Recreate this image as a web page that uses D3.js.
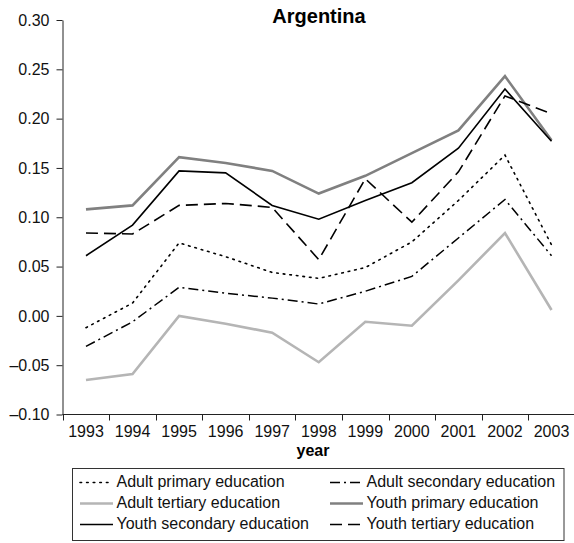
<!DOCTYPE html>
<html>
<head>
<meta charset="utf-8">
<script src="https://cdn.jsdelivr.net/npm/d3@7/dist/d3.min.js"></script>
<style>
  html, body { margin: 0; padding: 0; background: #fff; }
  svg { display: block; font-family: "Liberation Sans", Arial, Helvetica, sans-serif; }
</style>
</head>
<body>
<svg id="chart" width="574" height="543"></svg>
<script>
// Years on the horizontal axis
const years = ["1993","1994","1995","1996","1997","1998","1999","2000","2001","2002","2003"];

// Series values, one per year
const adultPrimary   = [-0.012, 0.013, 0.074, 0.060, 0.044, 0.038, 0.049, 0.075, 0.117, 0.163, 0.072];
const adultSecondary = [-0.031, -0.006, 0.029, 0.023, 0.018, 0.012, 0.025, 0.040, 0.079, 0.118, 0.061];
const adultTertiary  = [-0.065, -0.059, 0.000, -0.008, -0.017, -0.047, -0.006, -0.010, 0.036, 0.084, 0.006];
const youthPrimary   = [0.108, 0.112, 0.161, 0.155, 0.147, 0.124, 0.142, 0.165, 0.188, 0.243, 0.178];
const youthSecondary = [0.061, 0.092, 0.147, 0.145, 0.112, 0.098, 0.117, 0.135, 0.170, 0.230, 0.177];
const youthTertiary  = [0.084, 0.083, 0.112, 0.114, 0.110, 0.057, 0.139, 0.095, 0.146, 0.223, 0.205];

// Y axis tick values and labels
const yTicks = [-0.10, -0.05, 0.00, 0.05, 0.10, 0.15, 0.20, 0.25, 0.30];

const seriesNames = [
  "Adult primary education", "Adult secondary education",
  "Adult tertiary education", "Youth primary education",
  "Youth secondary education", "Youth tertiary education"
];
const seriesValues = [adultPrimary, adultSecondary, adultTertiary, youthPrimary, youthSecondary, youthTertiary];
const seriesStyle = [
  { color: "#000", width: 1.6, dash: "1.6,5", cap: "round" },
  { color: "#000", width: 1.5, dash: "10,4,2,4", cap: "butt" },
  { color: "#b5b5b5", width: 2.6, dash: null, cap: "butt" },
  { color: "#808080", width: 2.6, dash: null, cap: "butt" },
  { color: "#000", width: 1.6, dash: null, cap: "butt" },
  { color: "#000", width: 1.6, dash: "12,6", cap: "butt" }
];

const svg = d3.select("#chart");

const x = d3.scaleBand().domain(years).range([62.7, 574.8]).padding(0);
const y = d3.scaleLinear().domain([-0.10, 0.30]).range([414.5, 20]);

const fmt = v => (v < 0 ? "\u2013" : "") + d3.format(".2f")(Math.abs(v));

// Y axis
const yAxis = svg.append("g")
  .attr("transform", "translate(62.5,0)")
  .call(d3.axisLeft(y).tickValues(yTicks).tickFormat(fmt).tickSize(6).tickPadding(7).tickSizeOuter(0));
yAxis.selectAll("text").attr("font-size", 16).attr("fill", "#111");
yAxis.select(".domain").attr("stroke", "#222");
yAxis.selectAll(".tick line").attr("stroke", "#222");

// X axis: labels centred in each band, ticks on band boundaries
const xAxis = svg.append("g")
  .attr("transform", "translate(0,414.5)")
  .call(d3.axisBottom(x).tickSize(0).tickPadding(11).tickSizeOuter(0));
xAxis.selectAll("text").attr("font-size", 16).attr("fill", "#111");
xAxis.select(".domain").attr("stroke", "#222").attr("d", `M62.5,0H574`);
xAxis.selectAll(".boundary")
  .data(years)
  .enter().append("line")
  .attr("class", "boundary")
  .attr("x1", d => Math.round(x(d)) + 0.5)
  .attr("x2", d => Math.round(x(d)) + 0.5)
  .attr("y1", 0).attr("y2", 6)
  .attr("stroke", "#222");

// Axis title and chart title
svg.append("text")
  .attr("x", 313).attr("y", 456)
  .attr("text-anchor", "middle")
  .attr("font-size", 16).attr("font-weight", "bold")
  .text("year");

svg.append("text")
  .attr("x", 319).attr("y", 23)
  .attr("text-anchor", "middle")
  .attr("font-size", 20).attr("font-weight", "bold")
  .text("Argentina");

// Lines
const line = d3.line()
  .x((d, i) => x(years[i]) + x.bandwidth() / 2)
  .y(d => y(d));

const drawOrder = [2, 3, 1, 0, 5, 4];
drawOrder.forEach(i => {
  const s = seriesStyle[i];
  svg.append("path")
    .datum(seriesValues[i])
    .attr("d", line)
    .attr("fill", "none")
    .attr("stroke", s.color)
    .attr("stroke-width", s.width)
    .attr("stroke-dasharray", s.dash)
    .attr("stroke-linecap", s.cap)
    .attr("stroke-linejoin", "miter");
});

// Legend
const legend = svg.append("g");
legend.append("rect")
  .attr("x", 72.5).attr("y", 468.5)
  .attr("width", 491.5).attr("height", 72)
  .attr("fill", "#fff").attr("stroke", "#333").attr("stroke-width", 1);

const colX = [80, 330];
const rowY = [487, 508, 529];
seriesNames.forEach((name, i) => {
  const cx = colX[i % 2];
  const ry = rowY[Math.floor(i / 2)];
  const s = seriesStyle[i];
  legend.append("line")
    .attr("x1", cx).attr("x2", cx + 33)
    .attr("y1", ry - 4.5).attr("y2", ry - 4.5)
    .attr("stroke", s.color)
    .attr("stroke-width", s.width)
    .attr("stroke-dasharray", s.dash)
    .attr("stroke-linecap", s.cap);
  legend.append("text")
    .attr("x", cx + 36.5).attr("y", ry)
    .attr("font-size", 16).attr("fill", "#111")
    .text(name);
});
</script>
</body>
</html>
